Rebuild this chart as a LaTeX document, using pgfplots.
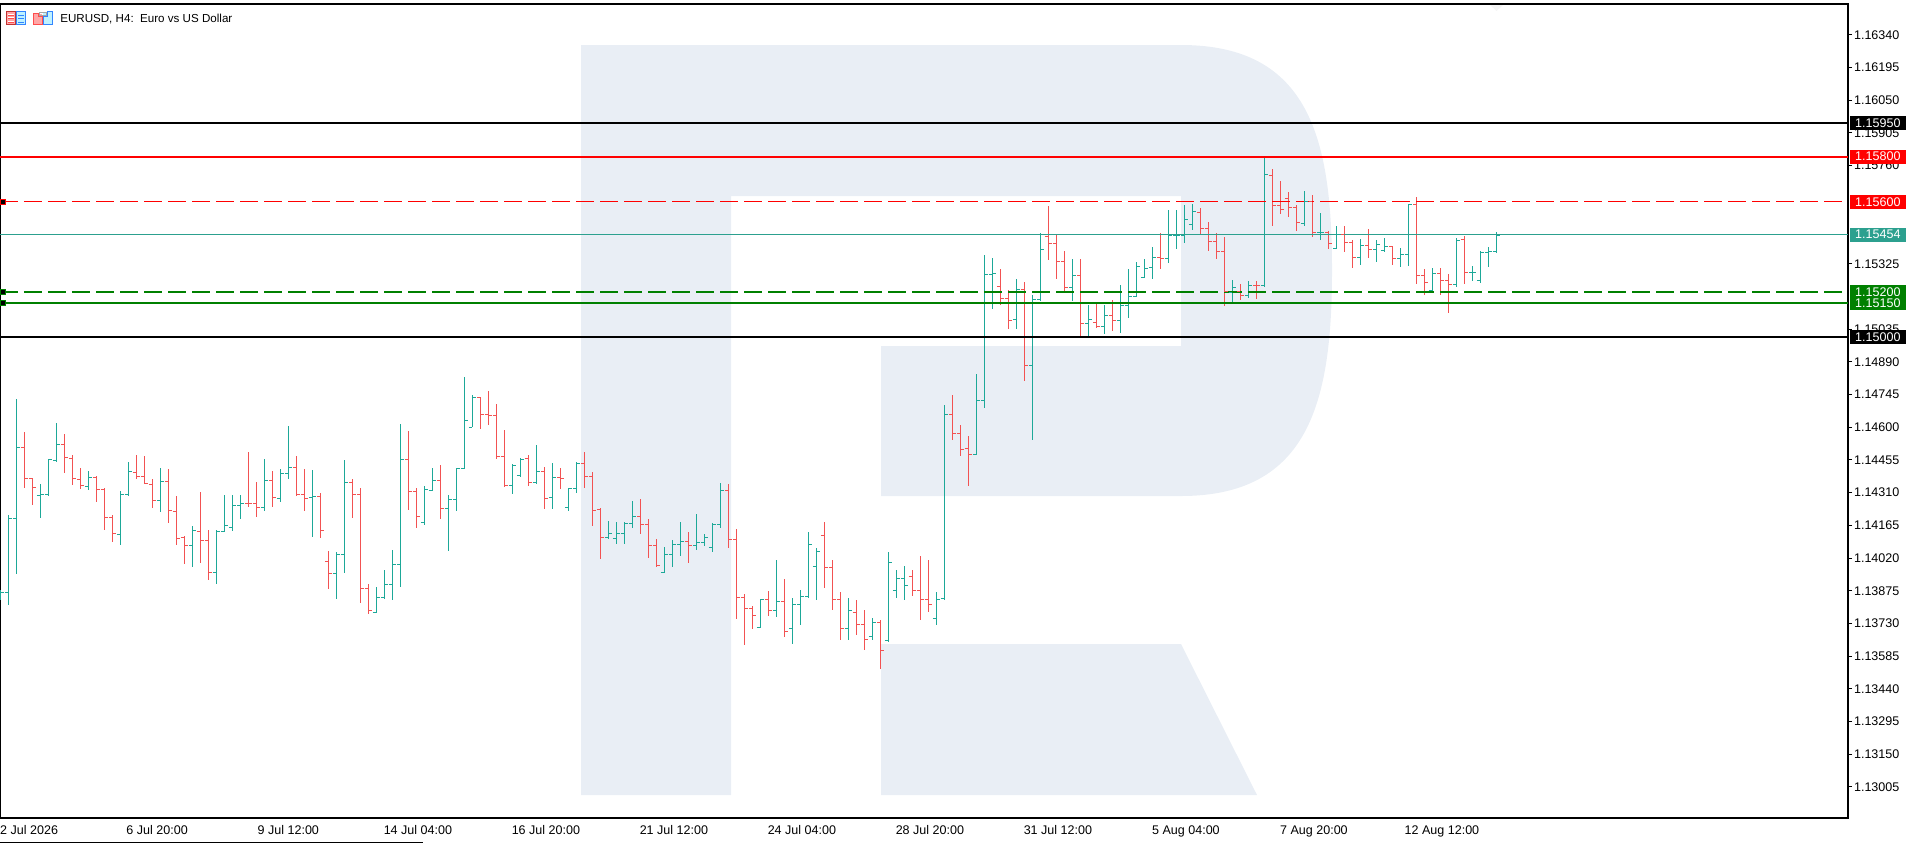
\documentclass[border=0pt]{standalone}
\usepackage{pgfplots}
\pgfplotsset{compat=1.18}
\usepackage{pgfplotstable}
\usepackage{fontspec}
\setmainfont{Liberation Sans}
\definecolor{upc}{HTML}{1DA898}
\definecolor{dnc}{HTML}{F25252}
\definecolor{logo}{HTML}{E9EEF5}
\definecolor{tealline}{HTML}{2CA08F}
\definecolor{grn}{HTML}{008000}
\pgfdeclareplotmark{otick}{\pgfpathmoveto{\pgfqpoint{-2.6pt}{0pt}}\pgfpathlineto{\pgfqpoint{0pt}{0pt}}\pgfusepathqstroke}
\pgfdeclareplotmark{ctick}{\pgfpathmoveto{\pgfqpoint{0pt}{0pt}}\pgfpathlineto{\pgfqpoint{2.6pt}{0pt}}\pgfusepathqstroke}
\pgfplotstableread{
x o h l c
0 1.13869 1.13878 1.13834 1.13869
1 1.13869 1.14211 1.13812 1.14196
2 1.14196 1.14725 1.13949 1.14512
5 1.14297 1.14348 1.14198 1.14302
6 1.14302 1.14458 1.14296 1.14458
7 1.14454 1.14619 1.14447 1.14524
11 1.14338 1.14406 1.14321 1.14378
15 1.14125 1.14317 1.14078 1.14302
16 1.14302 1.14446 1.14296 1.14404
20 1.14276 1.14420 1.14224 1.14360
24 1.14076 1.14162 1.13980 1.14143
27 1.13957 1.14143 1.13904 1.14138
28 1.14138 1.14299 1.14135 1.14165
29 1.14156 1.14299 1.14140 1.14254
30 1.14254 1.14299 1.14193 1.14263
33 1.14245 1.14459 1.14228 1.14365
35 1.14285 1.14415 1.14268 1.14395
36 1.14395 1.14605 1.14370 1.14422
39 1.14289 1.14410 1.14113 1.14294
42 1.13952 1.14047 1.13838 1.14037
43 1.14037 1.14455 1.13953 1.14356
47 1.13779 1.13891 1.13776 1.13846
48 1.13846 1.13967 1.13838 1.13903
49 1.13903 1.14055 1.13834 1.13992
50 1.13992 1.14614 1.13891 1.14458
53 1.14178 1.14339 1.14166 1.14324
54 1.14320 1.14420 1.14317 1.14365
56 1.14240 1.14299 1.14051 1.14280
57 1.14280 1.14420 1.14228 1.14417
58 1.14417 1.14823 1.14417 1.14631
59 1.14600 1.14743 1.14600 1.14733
64 1.14342 1.14437 1.14304 1.14431
65 1.14387 1.14463 1.14379 1.14458
67 1.14354 1.14521 1.14348 1.14404
69 1.14289 1.14441 1.14237 1.14378
71 1.14245 1.14329 1.14228 1.14329
72 1.14329 1.14446 1.14308 1.14440
76 1.14112 1.14184 1.14104 1.14129
77 1.14107 1.14179 1.14082 1.14129
78 1.14129 1.14179 1.14082 1.14174
79 1.14174 1.14273 1.14153 1.14205
83 1.13957 1.14069 1.13953 1.14037
84 1.14037 1.14100 1.13980 1.14081
85 1.14081 1.14179 1.14029 1.14094
87 1.14076 1.14215 1.14055 1.14090
88 1.14090 1.14126 1.14073 1.14112
89 1.14067 1.14175 1.14047 1.14170
90 1.14170 1.14353 1.14153 1.14320
95 1.13713 1.13838 1.13709 1.13837
97 1.13788 1.14011 1.13758 1.13828
99 1.13709 1.13842 1.13638 1.13816
100 1.13816 1.13878 1.13723 1.13851
101 1.13851 1.14135 1.13842 1.14078
102 1.13984 1.14064 1.13834 1.14047
106 1.13709 1.13842 1.13656 1.13789
109 1.13674 1.13754 1.13656 1.13736
111 1.13656 1.14047 1.13647 1.14002
112 1.13878 1.13967 1.13842 1.13927
113 1.13927 1.13984 1.13834 1.13896
117 1.13754 1.13869 1.13723 1.13834
118 1.13842 1.14698 1.13834 1.14657
122 1.14480 1.14836 1.14477 1.14719
123 1.14719 1.15364 1.14685 1.15278
124 1.15278 1.15350 1.15124 1.15283
127 1.15078 1.15257 1.15035 1.15212
129 1.14874 1.15186 1.14543 1.15167
130 1.15167 1.15461 1.15160 1.15389
134 1.15220 1.15346 1.15160 1.15274
136 1.15061 1.15142 1.15004 1.15078
138 1.15047 1.15142 1.15013 1.15096
140 1.15074 1.15231 1.15018 1.15141
141 1.15141 1.15302 1.15084 1.15181
142 1.15181 1.15333 1.15177 1.15315
143 1.15265 1.15346 1.15262 1.15305
144 1.15309 1.15399 1.15257 1.15355
146 1.15349 1.15563 1.15328 1.15451
147 1.15451 1.15563 1.15390 1.15451
148 1.15451 1.15585 1.15417 1.15522
149 1.15500 1.15590 1.15475 1.15557
154 1.15198 1.15253 1.15155 1.15220
156 1.15185 1.15248 1.15173 1.15229
158 1.15229 1.15794 1.15222 1.15722
163 1.15504 1.15647 1.15492 1.15602
165 1.15464 1.15550 1.15430 1.15464
167 1.15393 1.15492 1.15390 1.15455
170 1.15353 1.15435 1.15319 1.15407
172 1.15389 1.15430 1.15333 1.15411
173 1.15385 1.15439 1.15377 1.15402
175 1.15349 1.15395 1.15310 1.15367
176 1.15367 1.15590 1.15315 1.15589
179 1.15205 1.15306 1.15200 1.15283
182 1.15234 1.15439 1.15222 1.15429
184 1.15287 1.15315 1.15248 1.15287
185 1.15251 1.15381 1.15239 1.15376
186 1.15376 1.15399 1.15310 1.15380
187 1.15380 1.15466 1.15373 1.15451
}\upbars
\pgfplotstableread{
x o h l c
3 1.14512 1.14579 1.14332 1.14374
4 1.14374 1.14375 1.14256 1.14334
8 1.14524 1.14570 1.14398 1.14467
9 1.14462 1.14477 1.14344 1.14374
10 1.14369 1.14420 1.14326 1.14342
12 1.14378 1.14384 1.14268 1.14324
13 1.14324 1.14330 1.14144 1.14201
14 1.14201 1.14211 1.14091 1.14129
17 1.14400 1.14477 1.14370 1.14382
18 1.14382 1.14473 1.14348 1.14351
19 1.14347 1.14370 1.14241 1.14276
21 1.14360 1.14415 1.14175 1.14232
22 1.14227 1.14295 1.14078 1.14107
23 1.14113 1.14117 1.13993 1.14076
25 1.14138 1.14312 1.13998 1.14099
26 1.14099 1.14144 1.13922 1.13957
31 1.14263 1.14490 1.14246 1.14263
32 1.14263 1.14357 1.14202 1.14245
34 1.14365 1.14406 1.14246 1.14289
37 1.14422 1.14473 1.14295 1.14302
38 1.14302 1.14415 1.14228 1.14285
40 1.14294 1.14308 1.14109 1.14143
41 1.14005 1.14051 1.13882 1.13952
44 1.14356 1.14370 1.14197 1.14302
45 1.14302 1.14330 1.13820 1.13885
46 1.13885 1.13904 1.13771 1.13788
51 1.14458 1.14583 1.14233 1.14315
52 1.14315 1.14330 1.14153 1.14205
55 1.14365 1.14432 1.14193 1.14240
60 1.14733 1.14734 1.14592 1.14657
61 1.14657 1.14761 1.14610 1.14653
62 1.14653 1.14703 1.14459 1.14471
63 1.14471 1.14588 1.14335 1.14342
66 1.14462 1.14477 1.14339 1.14356
68 1.14404 1.14423 1.14237 1.14285
70 1.14378 1.14420 1.14326 1.14374
73 1.14440 1.14490 1.14330 1.14382
74 1.14382 1.14401 1.14162 1.14232
75 1.14236 1.14241 1.14015 1.14112
80 1.14205 1.14282 1.14126 1.14170
81 1.14170 1.14193 1.14020 1.14076
82 1.14076 1.14104 1.13980 1.13986
86 1.14094 1.14135 1.13998 1.14076
91 1.14320 1.14348 1.14064 1.14103
92 1.14103 1.14149 1.13749 1.13846
93 1.13846 1.13860 1.13634 1.13796
94 1.13796 1.13807 1.13705 1.13766
96 1.13837 1.13873 1.13762 1.13788
98 1.13828 1.13927 1.13669 1.13695
103 1.14122 1.14179 1.13887 1.13976
104 1.13976 1.14011 1.13789 1.13834
105 1.13834 1.13869 1.13656 1.13709
107 1.13780 1.13834 1.13678 1.13723
108 1.13723 1.13789 1.13612 1.13660
110 1.13736 1.13745 1.13528 1.13612
114 1.13936 1.13967 1.13851 1.13878
115 1.13878 1.14029 1.13745 1.13834
116 1.13834 1.14011 1.13780 1.13812
119 1.14657 1.14743 1.14543 1.14573
120 1.14573 1.14610 1.14472 1.14502
121 1.14506 1.14561 1.14339 1.14480
125 1.15225 1.15302 1.15142 1.15172
126 1.15172 1.15208 1.15035 1.15074
128 1.15212 1.15244 1.14805 1.14874
131 1.15447 1.15581 1.15341 1.15416
132 1.15416 1.15457 1.15257 1.15336
133 1.15336 1.15381 1.15200 1.15220
135 1.15274 1.15346 1.15000 1.15061
137 1.15065 1.15146 1.15040 1.15047
139 1.15096 1.15164 1.15027 1.15074
145 1.15355 1.15461 1.15302 1.15349
150 1.15553 1.15572 1.15457 1.15482
151 1.15482 1.15510 1.15381 1.15424
152 1.15424 1.15461 1.15346 1.15381
153 1.15381 1.15443 1.15137 1.15200
155 1.15203 1.15235 1.15164 1.15185
157 1.15229 1.15248 1.15169 1.15229
159 1.15717 1.15745 1.15492 1.15584
160 1.15584 1.15692 1.15545 1.15566
161 1.15615 1.15643 1.15532 1.15575
162 1.15575 1.15585 1.15470 1.15509
164 1.15602 1.15630 1.15443 1.15464
166 1.15464 1.15470 1.15390 1.15416
168 1.15455 1.15492 1.15377 1.15420
169 1.15420 1.15430 1.15306 1.15353
171 1.15407 1.15479 1.15350 1.15389
174 1.15402 1.15404 1.15319 1.15349
177 1.15589 1.15621 1.15235 1.15274
178 1.15274 1.15302 1.15186 1.15243
180 1.15283 1.15306 1.15186 1.15251
181 1.15251 1.15279 1.15106 1.15234
183 1.15433 1.15448 1.15235 1.15287
}\downbars
\begin{document}
\begin{tikzpicture}[x=0.75pt,y=-0.75pt]
\path[use as bounding box] (0,0) rectangle (1912,843);
% background logo
\fill[logo,even odd rule] (581,45) -- (1181,45) .. controls (1310,45) and (1332,140) .. (1332,270)
   .. controls (1332,400) and (1310,496) .. (1181,496) -- (881,496) -- (881,346) -- (1181,346) -- (1181,196)
   -- (731,196) -- (731,795) -- (581,795) -- cycle;
\fill[logo] (881,644) -- (1181,644) -- (1257,795) -- (881,795) -- cycle;
\begin{axis}[
  at={(0pt,-613.5pt)},anchor=south west,scale only axis,
  width=1386pt,height=610.5pt,
  xmin=-0.041,xmax=230.96,ymin=1.12867,ymax=1.16477,
  clip=false,
  axis line style={black,line width=0.9pt},
  tick align=outside,major tick length=3pt,
  tick style={black,line width=0.75pt},
  xticklabel pos=lower,yticklabel pos=right,
  xtick style={draw=none},
  xtick={3.6,19.6,36.0,52.2,68.2,84.2,100.2,116.2,132.2,148.2,164.2,180.2},
  xticklabels={2 Jul 2026,6 Jul 20:00,9 Jul 12:00,14 Jul 04:00,16 Jul 20:00,21 Jul 12:00,24 Jul 04:00,28 Jul 20:00,31 Jul 12:00,5 Aug 04:00,7 Aug 20:00,12 Aug 12:00},
  ytick={1.13005,1.1315,1.13295,1.1344,1.13585,1.1373,1.13875,1.1402,1.14165,1.1431,1.14455,1.146,1.14745,1.1489,1.15035,1.15325,1.1576,1.15905,1.1605,1.16195,1.1634},
  /pgf/number format/assume math mode=true,
  yticklabel style={/pgf/number format/fixed,/pgf/number format/fixed zerofill,/pgf/number format/precision=5,font=\fontsize{9.4}{11}\selectfont,xshift=-2pt},
  xticklabel style={font=\fontsize{9.4}{11}\selectfont,yshift=1pt},
  scaled y ticks=false,
]
% bars: high-low stems through error bars, open and close ticks as marks
\addplot[draw=none,no markers,forget plot,error bars/.cd,y dir=both,y explicit,error mark=none,error bar style={draw=upc,line width=0.75pt}]
  table[x=x,y=c,y error plus expr=\thisrow{h}-\thisrow{c},y error minus expr=\thisrow{c}-\thisrow{l}] {\upbars};
\addplot[only marks,mark=otick,mark options={upc,line width=0.75pt},forget plot] table[x=x,y=o] {\upbars};
\addplot[only marks,mark=ctick,mark options={upc,line width=0.75pt},forget plot] table[x=x,y=c] {\upbars};
\addplot[draw=none,no markers,forget plot,error bars/.cd,y dir=both,y explicit,error mark=none,error bar style={draw=dnc,line width=0.75pt}]
  table[x=x,y=c,y error plus expr=\thisrow{h}-\thisrow{c},y error minus expr=\thisrow{c}-\thisrow{l}] {\downbars};
\addplot[only marks,mark=otick,mark options={dnc,line width=0.75pt},forget plot] table[x=x,y=o] {\downbars};
\addplot[only marks,mark=ctick,mark options={dnc,line width=0.75pt},forget plot] table[x=x,y=c] {\downbars};
% horizontal levels
\addplot[black,line width=1.6pt,forget plot] coordinates {(-0.041,1.1595) (230.96,1.1595)};
\addplot[red,line width=1.6pt,forget plot] coordinates {(-0.041,1.158) (230.96,1.158)};
\addplot[red,line width=1pt,dash pattern=on 13.5pt off 4.5pt,forget plot] coordinates {(-0.041,1.156) (230.96,1.156)};
\addplot[tealline,line width=0.75pt,forget plot] coordinates {(-0.041,1.15454) (230.96,1.15454)};
\addplot[grn,line width=1pt,dash pattern=on 13.5pt off 4.5pt,forget plot] coordinates {(-0.041,1.152) (230.96,1.152)};
\addplot[grn,line width=1.6pt,forget plot] coordinates {(-0.041,1.1515) (230.96,1.1515)};
\addplot[black,line width=1.6pt,forget plot] coordinates {(-0.041,1.15) (230.96,1.15)};
% anchor squares at left ends
\addplot[only marks,mark=square*,mark size=1.8pt,mark options={fill=black,draw=red,line width=0.8pt},forget plot] coordinates {(0.3,1.156)};
\addplot[only marks,mark=square*,mark size=1.8pt,mark options={fill=black,draw=grn,line width=0.8pt},forget plot] coordinates {(0.3,1.152) (0.3,1.1515)};
% price tags
\foreach \p/\t/\f in {1.1595/1.15950/black,1.158/1.15800/red,1.156/1.15600/red,1.15454/1.15454/tealline,1.152/1.15200/grn,1.1515/1.15150/grn,1.15/1.15000/black}{
  \edef\temp{\noexpand\node[anchor=west,fill=\f,text=white,inner sep=0pt,minimum width=41.5pt,minimum height=10.5pt,font=\noexpand\fontsize{9.4}{11}\noexpand\selectfont] at (axis cs:231.2,\p) {\t};}
  \temp
}
\end{axis}
% window title and icons
\node[anchor=west,inner sep=0pt,font=\fontsize{8.7}{11}\selectfont] at (60,19) {EURUSD, H4:\ \ Euro vs US Dollar};
\fill[red!35] (6,11) rectangle (15,24);
\draw[red!70!black!80,line width=0.6pt] (6,11) rectangle (15,24);
\foreach \yy in {14,17.5,21}{\draw[white,line width=0.7pt] (8,\yy) -- (14,\yy);\draw[red!70,line width=0.7pt] (8,\yy+1) -- (14,\yy+1);}
\fill[blue!20!cyan!25] (16,11) rectangle (25,24);
\draw[blue!60!cyan!80,line width=0.6pt] (16,11) rectangle (25,24);
\foreach \yy in {14,17.5,21}{\draw[blue!60!cyan!80,line width=0.7pt] (18,\yy+1) -- (24,\yy+1);}
\fill[red!35] (33,14) rectangle (42,24);
\draw[red!70,line width=0.6pt] (33,13) -- (38,13) -- (38,16) -- (42,16) -- (42,24) -- (33,24) -- cycle;
\fill[blue!20!cyan!25] (43,13) -- (50,11) -- (52,11) -- (52,24) -- (43,24) -- cycle;
\draw[blue!60!cyan!80,line width=0.6pt] (43,16) -- (47,16) -- (47,11) -- (52,11) -- (52,24) -- (43,24) -- cycle;
\draw[gray!70,line width=0.6pt] (39,12) rectangle (46,15);
% small markers at the edges
\fill[black!4] (1490,5) -- (1503,5) -- (1496.5,11) -- cycle;
\draw[black,line width=0.75pt] (0,842.5) -- (423,842.5);
\end{tikzpicture}
\end{document}
